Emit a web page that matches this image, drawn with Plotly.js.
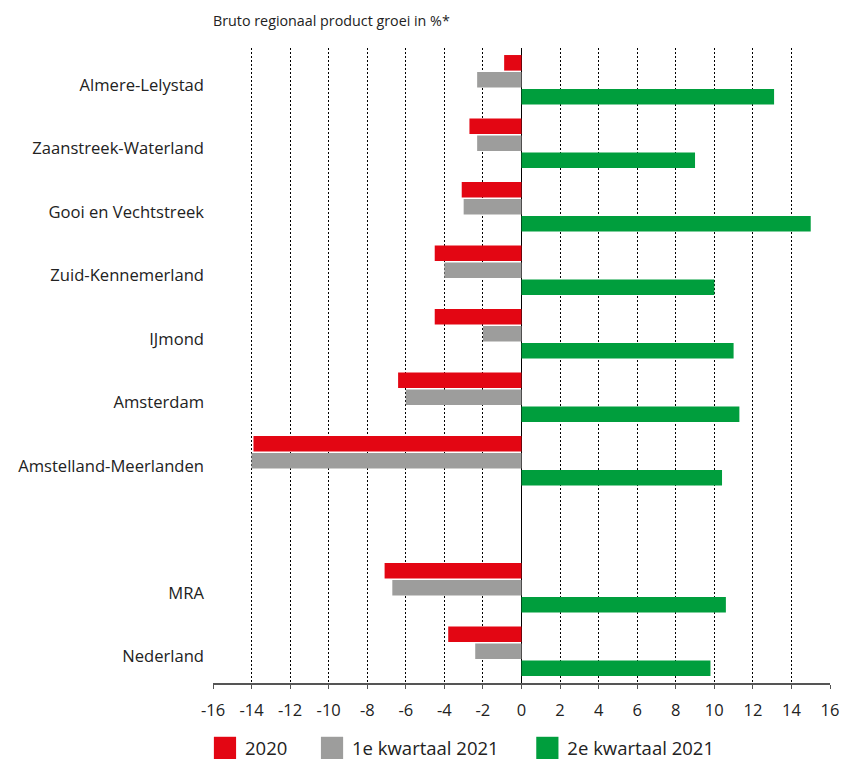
<!DOCTYPE html>
<html>
<head>
<meta charset="utf-8">
<script src="https://cdn.plot.ly/plotly-3.0.1.min.js"></script>
<style>
html,body{margin:0;padding:0;background:#fff;}
#chart{width:852px;height:762px;}
</style>
</head>
<body>
<div id="chart"></div>
<script>
// Categories (top to bottom); " " is an empty spacer row
const regions = ["Almere-Lelystad", "Zaanstreek-Waterland", "Gooi en Vechtstreek", "Zuid-Kennemerland",
  "IJmond", "Amsterdam", "Amstelland-Meerlanden", " ", "MRA", "Nederland"];
const seriesNames = ["2020", "1e kwartaal 2021", "2e kwartaal 2021"];
const growth2020 = [-0.9, -2.7, -3.1, -4.5, -4.5, -6.4, -13.9, null, -7.1, -3.8];
const growthQ1_2021 = [-2.3, -2.3, -3.0, -4.0, -2.0, -6.0, -14.0, null, -6.7, -2.4];
const growthQ2_2021 = [13.1, 9.0, 15.0, 10.0, 11.0, 11.3, 10.4, null, 10.6, 9.8];
const xTicks = [-16, -14, -12, -10, -8, -6, -4, -2, 0, 2, 4, 6, 8, 10, 12, 14, 16];

const colors = ["#E30613", "#9D9D9C", "#009E3D"];
const values = [growth2020, growthQ1_2021, growthQ2_2021];
const legendIds = ["legend", "legend2", "legend3"];
const legendX = [-0.013, 0.1605, 0.5095];

const traces = values.map((v, i) => ({
  type: "bar",
  orientation: "h",
  name: seriesNames[i],
  legend: legendIds[i],
  x: v,
  y: regions,
  marker: {color: colors[i], line: {width: 0}},
  hoverinfo: "x+name"
}));

const font = "'Open Sans', 'Noto Sans', sans-serif";

const layout = {
  width: 852, height: 762,
  margin: {l: 213, r: 22, t: 48, b: 79, autoexpand: false},
  paper_bgcolor: "#fff", plot_bgcolor: "#fff",
  font: {family: font, size: 16, color: "#222"},
  barmode: "group",
  bargap: 0.2,
  bargroupgap: 0.08,
  showlegend: true,
  title: {
    text: "Bruto regionaal product groei in %*",
    x: 0, xref: "paper", xanchor: "left", y: 0.973, yanchor: "middle",
    font: {family: font, size: 14.3, color: "#222"}
  },
  xaxis: {
    range: [-16, 16],
    tickvals: xTicks,
    ticktext: xTicks.map(String),
    showgrid: true, gridcolor: "#000", griddash: "2px,2px", gridwidth: 1,
    zeroline: true, zerolinecolor: "#000", zerolinewidth: 1.5,
    showline: true, linecolor: "#555", linewidth: 2,
    ticks: "outside", ticklen: 4, tickcolor: "#555",
    ticklabelstandoff: 7,
    tickfont: {family: font, size: 16.5, color: "#222"},
    fixedrange: true
  },
  yaxis: {
    type: "category",
    categoryorder: "array", categoryarray: regions,
    autorange: "reversed",
    showgrid: false, zeroline: false, showline: false,
    ticks: "", ticklabelstandoff: 8, ticklabelshift: -5,
    tickfont: {family: font, size: 16.6, color: "#222"},
    fixedrange: true
  }
};
legendIds.forEach((id, i) => {
  layout[id] = {
    orientation: "h", x: legendX[i], xanchor: "left", y: -0.073, yanchor: "top",
    font: {family: font, size: 18.5, color: "#222"},
    itemwidth: 30, bgcolor: "rgba(0,0,0,0)"
  };
});

function enlargeLegendSymbols() {
  document.querySelectorAll("#chart g.scrollbox").forEach(s => s.removeAttribute("clip-path"));
  document.querySelectorAll("#chart .legendpoints path").forEach(p => {
    if (p.dataset.enlarged) return;
    const orig = p.getAttribute("transform") || "";
    const b = p.getBBox();
    const cx = b.x + b.width / 2, cy = b.y + b.height / 2;
    p.setAttribute("transform",
      `${orig} translate(${cx},${cy}) scale(1.85) translate(${-cx},${-cy})`);
    p.dataset.enlarged = "1";
  });
}

Plotly.newPlot("chart", traces, layout, {displayModeBar: false, staticPlot: true})
  .then(gd => { enlargeLegendSymbols(); gd.on("plotly_afterplot", enlargeLegendSymbols); });
</script>
</body>
</html>
